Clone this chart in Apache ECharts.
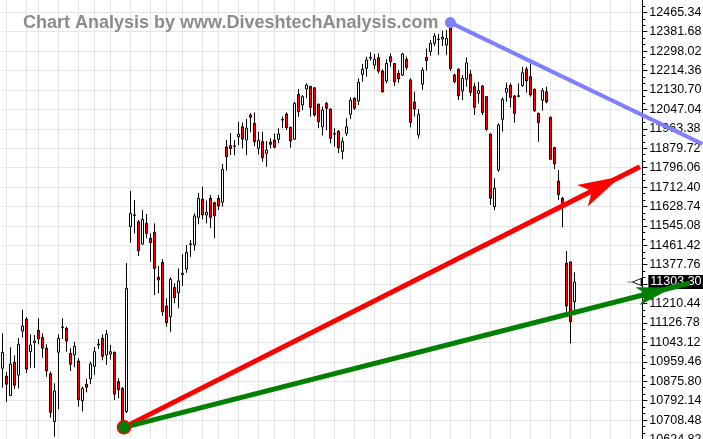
<!DOCTYPE html>
<html><head><meta charset="utf-8">
<script src="https://cdn.jsdelivr.net/npm/echarts@6/dist/echarts.min.js"></script>
<style>html,body{margin:0;padding:0;background:#fff;}#c{width:703px;height:439px;}</style>
</head><body><div id="c"></div>
<script>
// ---- data ----
const opens = [10932,10898,10814,10957,10902,11092,11143,11003,11042,11095,11065,11018,10908,10702,11001,11107,11104,10996,10989,10963,10792,10863,10886,10940,11032,11061,10989,10993,11000,10874,10845,10745,11542,11590,11563,11467,11556,11492,11518,11324,11388,11200,11154,11280,11257,11336,11359,11465,11463,11582,11660,11592,11664,11645,11664,11647,11885,11891,11888,11929,11972,11915,12023,11987,11879,11908,11858,11906,11915,11918,12001,12027,11970,11919,12112,12066,12135,12146,12140,12069,11972,12073,12049,11940,11953,11866,11944,12026,12095,12083,12198,12224,12268,12238,12270,12212,12170,12274,12245,12202,12195,12263,12174,12078,11937,12156,12271,12296,12332,12348,12350,12324,12398,12195,12220,12126,12177,12199,12145,12116,12148,12102,11941,11628,11786,12004,12121,12151,12105,12103,12149,12221,12188,12133,12030,12087,12123,12013,11882,11738,11664,11384,11390,11218];
const closes = [11000,10863,10950,10859,11035,11114,10928,11032,11049,11058,11018,10920,10742,10834,11061,11110,11049,10949,11026,10796,10845,10850,10950,11003,11036,10983,11078,11003,10820,10839,10706,11276,11599,11593,11438,11573,11513,11473,11362,11312,11175,11128,11315,11236,11308,11341,11431,11468,11588,11664,11592,11604,11582,11588,11631,11789,11843,11879,11890,11940,11919,11966,12013,11908,11914,11839,11872,11897,11884,11941,12004,11968,11911,12073,12037,12102,12152,12056,12023,11994,12044,12052,11922,11943,11881,11910,11972,12087,12052,12164,12220,12260,12271,12263,12212,12123,12245,12252,12166,12178,12286,12228,11991,12049,12026,12217,12257,12332,12363,12350,12358,12353,12222,12166,12105,12181,12248,12121,12056,12128,12034,11961,11664,11707,11980,12090,12138,12099,12030,12106,12205,12170,12109,12041,11990,12128,12079,11832,11812,11680,11635,11200,11132,11303.30];
const lows = [10848,10786,10812,10842,10845,11064,10911,10934,10932,11035,10977,10895,10719,10637,10756,11058,11003,10920,10936,10766,10745,10828,10863,10903,11015,10966,10946,10969,10795,10802,10677,10739,11473,11513,11415,11463,11492,11391,11247,11255,11157,11111,11089,11212,11190,11286,11343,11412,11438,11552,11573,11556,11535,11492,11613,11628,11784,11850,11850,11893,11879,11850,11948,11889,11853,11822,11800,11879,11879,11901,11966,11958,11882,11915,12015,12044,12095,12016,12016,11966,11934,11958,11901,11886,11859,11832,11932,12006,12044,12066,12166,12188,12257,12220,12202,12119,12159,12231,12148,12162,12191,12217,11970,12016,11922,12131,12214,12278,12320,12281,12320,12281,12212,12159,12087,12087,12145,12105,12023,12073,12023,11955,11635,11613,11778,11951,12080,12056,11990,12099,12145,12119,12102,12037,11908,12041,12073,11829,11789,11657,11539,11175,11039,11180];
const highs = [11082,10916,11022,10987,11062,11184,11152,11078,11075,11147,11082,11035,10917,10867,11078,11147,11111,11018,11046,10975,10852,10886,10960,11023,11058,11078,11097,11032,11004,10889,10851,11385,11695,11657,11570,11613,11596,11513,11556,11372,11402,11233,11324,11298,11362,11423,11463,11484,11599,11686,11714,11654,11678,11649,11678,11812,11915,11945,11915,11993,11991,12006,12031,12034,11951,11951,11911,11922,11944,11966,12016,12034,11972,12080,12135,12109,12159,12149,12142,12073,12059,12080,12050,11966,11958,11926,12009,12099,12099,12181,12243,12274,12293,12286,12289,12220,12263,12289,12247,12217,12291,12274,12181,12123,12049,12228,12310,12346,12375,12372,12386,12389,12421,12202,12224,12195,12271,12217,12162,12166,12152,12105,11943,11750,11987,12099,12162,12159,12109,12159,12231,12231,12245,12138,12033,12138,12145,12016,11886,11786,11670,11437,11390,11345];
const slotCount = 161;                       // trading-day slots on the x axis (incl. empty future)
const categories = Array.from({length: slotCount}, (_, i) => 'D' + i);
const weekStarts = [1,6,9,14,19,23,27,32,37,41,45,50,54,59,64,68,73,78,83,88,93,97,102,107,112,117,122,127,132,137,142,147,152,157];
const yTicks = {min: 10541.16, max: 12549.00, step: 83.66};
const lastClose = 11303.30;
// trend lines, in (day slot, price) units
const blueTrend  = [[112, 12421], [175, 11898]];
const redTrend   = [[30.4, 10677], [159.4, 11800]];
const greenTrend = [[30.4, 10677], [171.9, 11299]];

const FONT = "'Liberation Sans', Arial, sans-serif";
const candleData = opens.map((o, i) => [o, closes[i], lows[i], highs[i]]);

// layout (pixels)
const PLOT = {left: 2.33, right: 60.67, top: -7.1, bottom: -19.9};
const W = 703, SLOT = (W - PLOT.left - PLOT.right) / (slotCount - 1);

const chart = echarts.init(document.getElementById('c'), null, {renderer: 'canvas'});
chart.setOption({
  animation: false,
  backgroundColor: '#ffffff',
  title: {
    text: 'Chart Analysis by www.DiveshtechAnalysis.com',
    left: 18, top: 9,
    textStyle: {fontFamily: FONT, fontSize: 18, fontWeight: 'bold', color: '#8c8c8c'}
  },
  grid: [
    {left: PLOT.left, right: PLOT.right, top: PLOT.top, bottom: PLOT.bottom, outerBoundsMode: 'none'},
    // overlay grid covering the full width, same day-slot scale (for trend lines drawn over the price scale)
    {left: 0, right: 0, top: PLOT.top, bottom: PLOT.bottom, outerBoundsMode: 'none'}
  ],
  xAxis: [
    {
      type: 'category', data: categories, boundaryGap: false, gridIndex: 0,
      axisLine: {show: false}, axisTick: {show: false}, axisLabel: {show: false},
      splitLine: {show: true, interval: (idx) => weekStarts.includes(idx), lineStyle: {color: '#e6e6e6', width: 1}}
    },
    {type: 'value', gridIndex: 1, show: false,
     min: -PLOT.left / SLOT, max: (W - PLOT.left) / SLOT}
  ],
  yAxis: [
    {
      type: 'value', position: 'right', gridIndex: 0,
      min: yTicks.min, max: yTicks.max, interval: yTicks.step,
      axisLine: {show: true, lineStyle: {color: '#000', width: 1}},
      axisTick: {show: true, length: 5, lineStyle: {color: '#000'}},
      minorTick: {show: true, splitNumber: 3, length: 3, lineStyle: {color: '#000'}},
      axisLabel: {color: '#000', fontFamily: FONT, fontSize: 12.5, margin: 7, formatter: (v) => v.toFixed(2)},
      splitLine: {show: true, lineStyle: {color: '#e6e6e6', width: 1}}
    },
    {type: 'value', gridIndex: 1, show: false, min: yTicks.min, max: yTicks.max, splitLine: {show: false}}
  ],
  series: [
    {
      type: 'candlestick', data: candleData, barWidth: 3, clip: false, z: 2,
      xAxisIndex: 0, yAxisIndex: 0,
      itemStyle: {color: '#ffffff', color0: '#ff0000', borderColor: '#000', borderColor0: '#000', borderColorDoji: '#000', borderWidth: 1},
      markLine: {
        silent: true, symbol: ['none', 'none'], z: 5,
        lineStyle: {color: 'rgba(0,0,0,0)', width: 0},
        data: [{yAxis: lastClose}],
        label: {show: true, position: 'end', distance: 6, formatter: lastClose.toFixed(2),
                color: '#fff', backgroundColor: '#000', padding: [1, 2, 0, 2],
                fontFamily: FONT, fontSize: 12.5}
      },
      markPoint: {
        silent: true,
        data: [{coord: [158, lastClose]}],
        symbol: 'path://M0,3.5 L4,3.5 M4,3.5 L11,0 L11,7 Z',
        symbolSize: [14, 7],
        itemStyle: {color: '#ffffff', borderColor: '#000', borderWidth: 1},
        label: {show: false}
      }
    },
    {
      type: 'line', xAxisIndex: 1, yAxisIndex: 1, z: 10, clip: false, silent: true, symbol: 'none',
      lineStyle: {color: '#8080ff', width: 4, cap: 'butt'},
      itemStyle: {color: '#8080ff'},
      data: [
        {value: blueTrend[0], symbol: 'circle', symbolSize: 11, itemStyle: {color: '#8080ff', borderWidth: 0}},
        {value: blueTrend[1], symbol: 'none'}
      ]
    },
    {
      type: 'line', xAxisIndex: 1, yAxisIndex: 1, z: 11, clip: false, silent: true, symbol: 'none',
      lineStyle: {color: '#ff0000', width: 5, cap: 'butt'},
      itemStyle: {color: '#ff0000'},
      data: [
        {value: redTrend[0], symbol: 'none'},
        {value: redTrend[1], symbol: 'arrow', symbolSize: [18, 43], symbolRotate: -63.2, symbolOffset: [-19.2, 9.7],
         itemStyle: {color: '#ff0000', borderWidth: 0}}
      ]
    },
    {
      type: 'line', xAxisIndex: 1, yAxisIndex: 1, z: 12, clip: false, silent: true, symbol: 'none',
      lineStyle: {color: '#008000', width: 5, cap: 'butt'},
      itemStyle: {color: '#008000'},
      data: [
        {value: greenTrend[0], symbol: 'circle', symbolSize: 13, itemStyle: {color: '#008000', borderColor: '#ff0000', borderWidth: 1.5}},
        {value: greenTrend[1], symbol: 'arrow', symbolSize: [14, 36], symbolRotate: -75.7, symbolOffset: [-17.4, 4.4],
         itemStyle: {color: '#008000', borderWidth: 0}}
      ]
    }
  ]
});
</script>
</body></html>
